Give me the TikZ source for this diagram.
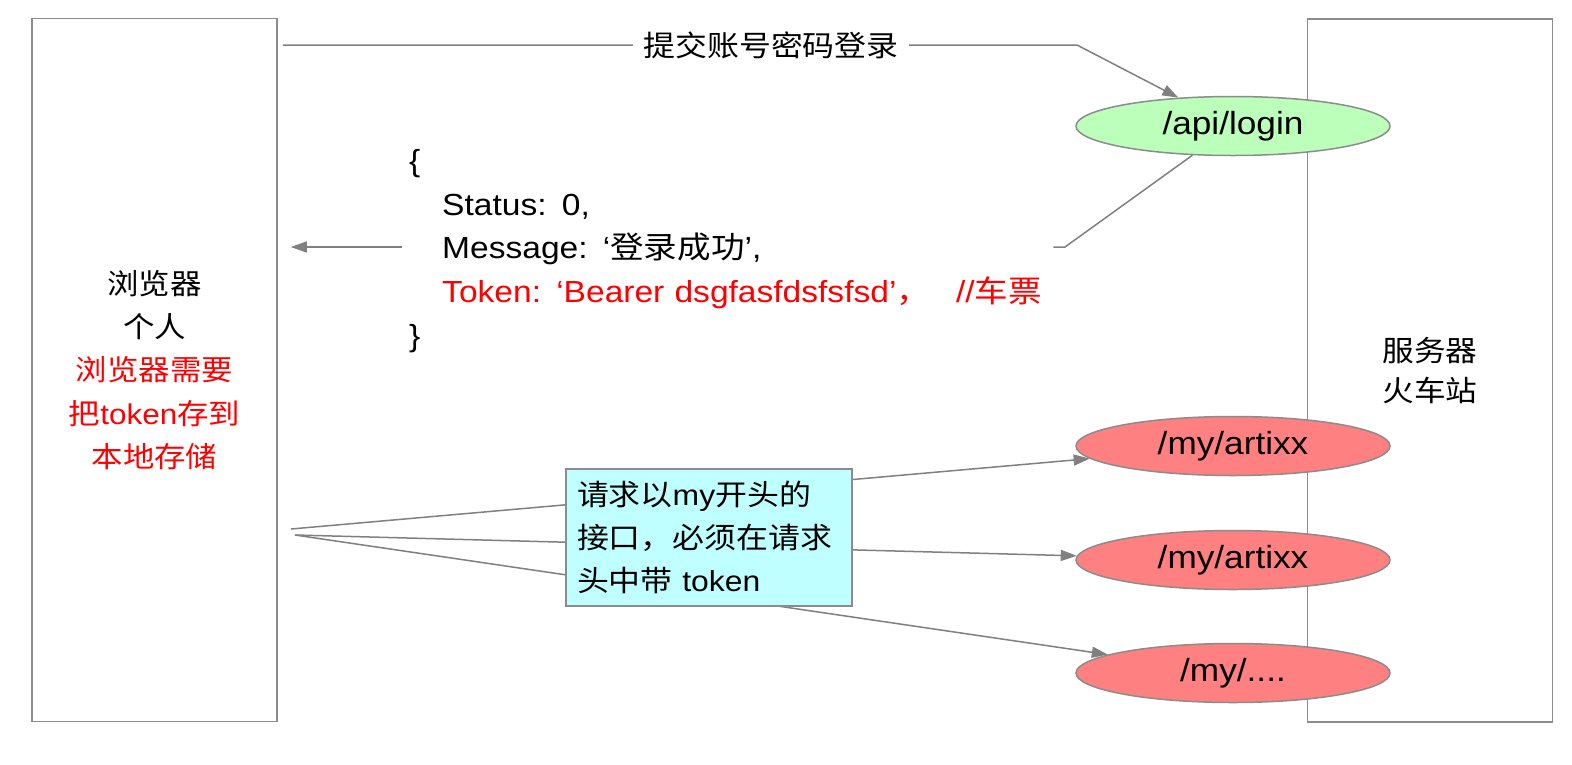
\documentclass[tikz,border=0pt]{standalone}
\usepackage{fontspec}
\setmainfont{Liberation Sans}[FakeStretch=1.1]
\newfontfamily\cjk{Noto Sans CJK SC}[FakeStretch=1.1]
\newcommand\zh[1]{{\cjk #1}}
\usetikzlibrary{arrows.meta,shapes.geometric,calc}
\definecolor{lineg}{HTML}{808080}
\definecolor{boxg}{HTML}{8C8C8C}
\definecolor{loginfill}{HTML}{BBFFBB}
\definecolor{myfill}{HTML}{FF8080}
\definecolor{notefill}{HTML}{BFFFFF}
\definecolor{redtxt}{HTML}{FF0000}
\begin{document}
\begin{tikzpicture}[x=1pt,y=-1pt,
  panel/.style={draw=boxg,line width=1.5pt,minimum width=245pt,minimum height=703pt,inner sep=0pt,align=center},
  api/.style={ellipse,draw=boxg,line width=1.5pt,minimum width=314pt,minimum height=59pt,inner sep=0pt,font=\fontsize{32}{36}\selectfont},
  conn/.style={draw=lineg,line width=1.5pt},
  arr/.style={conn,-{Triangle[length=16pt,width=11pt]}},
  note/.style={draw=boxg,line width=1.5pt,fill=notefill,text width=264pt,inner xsep=11pt,inner ysep=0pt,minimum height=137pt,align=left,font=\fontsize{29}{43}\selectfont}
]
\useasboundingbox (0,0) rectangle (1572,764);
\fill[white] (0,0) rectangle (1572,764);

% panels
\node[panel,font=\fontsize{28.6}{43.3}\selectfont] (browser) at (154.5,370) {%
  \zh{浏览器}\\ \zh{个人}\\ \textcolor{redtxt}{\zh{浏览器需要}}\\
  \textcolor{redtxt}{\zh{把}token\zh{存到}}\\ \textcolor{redtxt}{\zh{本地存储}}};
\node[panel,font=\fontsize{28.8}{40}\selectfont] (server) at (1430,370.5) {\zh{服务器}\\ \zh{火车站}};

% api ellipses
\node[api,fill=loginfill] (login) at (1233,126) {/api/login};
\node[api,fill=myfill] (my1) at (1233,446) {/my/artixx};
\node[api,fill=myfill] (my2) at (1233,560) {/my/artixx};
\node[api,fill=myfill] (my3) at (1233,673) {/my/....};

% login request
\coordinate (topc) at (1077,45);
\draw[arr] ($(browser.east |- topc)+(5,0)$) -- (topc) -- (login);
\node[fill=white,inner xsep=10pt,inner ysep=2pt,font=\fontsize{29}{34}\selectfont] (lbl) at (771,45) {\zh{提交账号密码登录}};

% response
\node[anchor=west,inner xsep=7pt,inner ysep=0pt,text width=637pt,align=left,font=\fontsize{30.5}{43.75}\selectfont] (json) at (402,251) {%
  \{\\
  \hspace*{33pt}Status: 0,\\
  \hspace*{33pt}Message: ‘\zh{登录成功}’,\\
  \hspace*{33pt}\textcolor{redtxt}{Token: ‘Bearer dsgfasfdsfsfsd’\zh{，}\hspace{26pt}//\zh{车票}}\\
  \}};
\coordinate (retc) at (1065,247);
\draw[conn] (login) -- (retc) -- (retc -| json.east);
\draw[arr] (json.west |- retc) -- ($(browser.east |- retc)+(13,0)$);

% token requests
\coordinate (fanA) at (291,529);
\coordinate (fanB) at (295,535);
\draw[arr] (fanA) -- (my1);
\draw[arr] (fanB) -- (my2);
\draw[arr] (fanB) -- (my3);
\node[note] (rule) at (709,537.5) {\zh{请求以}my\zh{开头的}\\ \zh{接口，必须在请求}\\ \zh{头中带} token};
\end{tikzpicture}
\end{document}
